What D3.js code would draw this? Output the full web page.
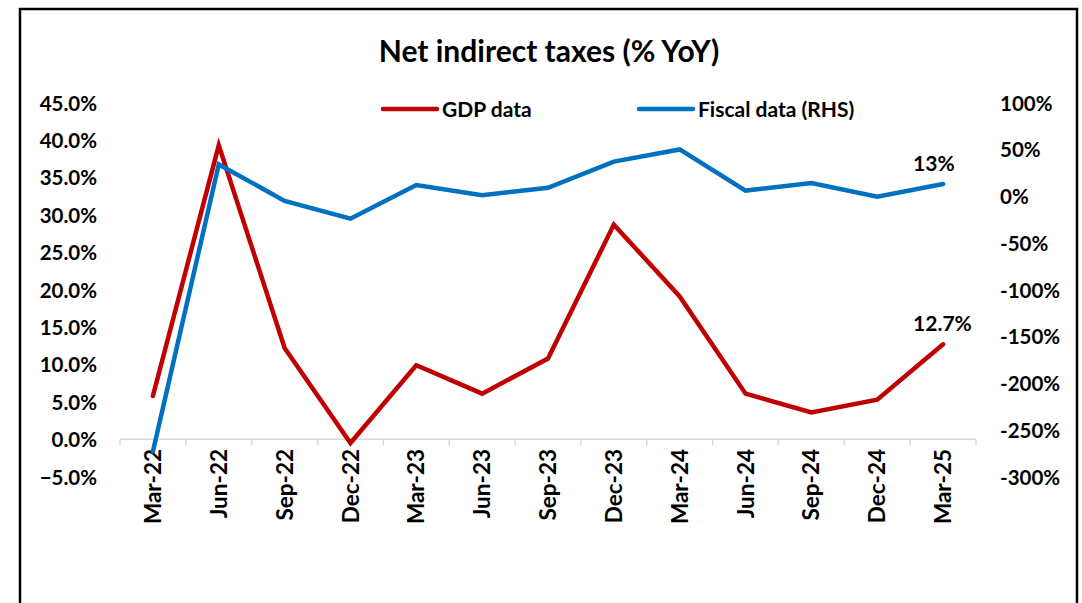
<!DOCTYPE html>
<html>
<head>
<meta charset="utf-8">
<script src="https://cdn.jsdelivr.net/npm/d3@7"></script>
<style>
  html, body { margin: 0; padding: 0; background: #fff; }
  svg { display: block; }
  text { font-family: Lato, "Open Sans", sans-serif; font-weight: bold; fill: #000; }
</style>
</head>
<body>
<svg id="chart" width="1082" height="603"></svg>
<script>
const categories = ["Mar-22","Jun-22","Sep-22","Dec-22","Mar-23","Jun-23","Sep-23","Dec-23","Mar-24","Jun-24","Sep-24","Dec-24","Mar-25"];
const gdpData = [5.8, 39.3, 12.2, -0.5, 9.9, 6.1, 10.8, 28.7, 19.1, 6.1, 3.6, 5.3, 12.7];
const fiscalData = [-273, 34, -5, -24, 12, 1, 9, 37, 50, 6, 14, -0.5, 13];
const leftTicks = [-5, 0, 5, 10, 15, 20, 25, 30, 35, 40, 45];
const rightTicks = [-300, -250, -200, -150, -100, -50, 0, 50, 100];
const seriesNames = ["GDP data", "Fiscal data (RHS)"];
const endLabels = ["12.7%", "13%"];
const titleText = "Net indirect taxes (% YoY)";

const svg = d3.select("#chart");
const RED = "#C00000", BLUE = "#0070C0";

// frame
svg.append("rect").attr("x", 20).attr("y", 9).attr("width", 1057).attr("height", 620)
  .attr("fill", "#fff").attr("stroke", "#000").attr("stroke-width", 2.5);

const x = d3.scalePoint().domain(categories).range([120, 976]).padding(0.5);
const yL = d3.scaleLinear().domain([-5, 45]).range([476.7, 102.7]);
const yR = d3.scaleLinear().domain([-300, 100]).range([476.7, 102.7]);

// title
svg.append("text").attr("x", 549).attr("y", 62).attr("text-anchor", "middle")
  .style("font-size", "30px").text(titleText);

// left axis labels
const leftAxis = d3.axisLeft(yL).tickValues(leftTicks).tickSize(0).tickPadding(0)
  .tickFormat(d => d3.format(".1f")(d) + "%");
const gL = svg.append("g").attr("transform", "translate(97,0)").call(leftAxis);
gL.select(".domain").remove();
gL.selectAll("text").style("font-size", "20.5px").attr("fill", "#000").attr("dy", "0.36em");

// right axis labels
const rightAxis = d3.axisRight(yR).tickValues(rightTicks).tickSize(0).tickPadding(0)
  .tickFormat(d => d + "%");
const gR = svg.append("g").attr("transform", "translate(1000,0)").call(rightAxis);
gR.select(".domain").remove();
gR.selectAll("text").style("font-size", "20.5px").attr("fill", "#000").attr("dy", "0.36em");

// category axis at 0
const y0 = yL(0);
const step = x.step();
const boundaries = d3.range(categories.length + 1).map(i => x(categories[0]) - step / 2 + i * step);
const gX = svg.append("g");
gX.append("line").attr("x1", boundaries[0]).attr("x2", boundaries[boundaries.length - 1])
  .attr("y1", y0).attr("y2", y0).attr("stroke", "#d9d9d9").attr("stroke-width", 1.5);
gX.selectAll("line.tick").data(boundaries).join("line").attr("class", "tick")
  .attr("x1", d => d).attr("x2", d => d).attr("y1", y0).attr("y2", y0 + 6)
  .attr("stroke", "#d9d9d9").attr("stroke-width", 1.5);
gX.selectAll("text").data(categories).join("text")
  .attr("transform", d => `translate(${x(d)},449) rotate(-90)`)
  .attr("text-anchor", "end").attr("dy", "0.36em")
  .style("font-size", "22.5px").text(d => d);

// lines
const lineL = d3.line().x((d, i) => x(categories[i])).y(d => yL(d));
const lineR = d3.line().x((d, i) => x(categories[i])).y(d => yR(d));
svg.append("path").datum(gdpData).attr("d", lineL).attr("fill", "none")
  .attr("stroke", RED).attr("stroke-width", 4.5).attr("stroke-linecap", "round").attr("stroke-linejoin", "miter");
svg.append("path").datum(fiscalData).attr("d", lineR).attr("fill", "none")
  .attr("stroke", BLUE).attr("stroke-width", 4.5).attr("stroke-linecap", "round").attr("stroke-linejoin", "miter");

// end labels
const last = categories.length - 1;
svg.append("text").attr("x", x(categories[last]) - 30).attr("y", yL(gdpData[last]) - 13)
  .style("font-size", "21px").text(endLabels[0]);
svg.append("text").attr("x", x(categories[last]) - 30).attr("y", yR(fiscalData[last]) - 13)
  .style("font-size", "21px").text(endLabels[1]);

// legend
const legend = [{name: seriesNames[0], color: RED, x: 383}, {name: seriesNames[1], color: BLUE, x: 639}];
const lg = svg.append("g").selectAll("g").data(legend).join("g")
  .attr("transform", d => `translate(${d.x},109)`);
lg.append("line").attr("x1", 0).attr("x2", 54).attr("y1", 0).attr("y2", 0)
  .attr("stroke", d => d.color).attr("stroke-width", 4.5).attr("stroke-linecap", "round");
lg.append("text").attr("x", 59).attr("dy", "0.36em").style("font-size", "21px").text(d => d.name);
</script>
</body>
</html>
